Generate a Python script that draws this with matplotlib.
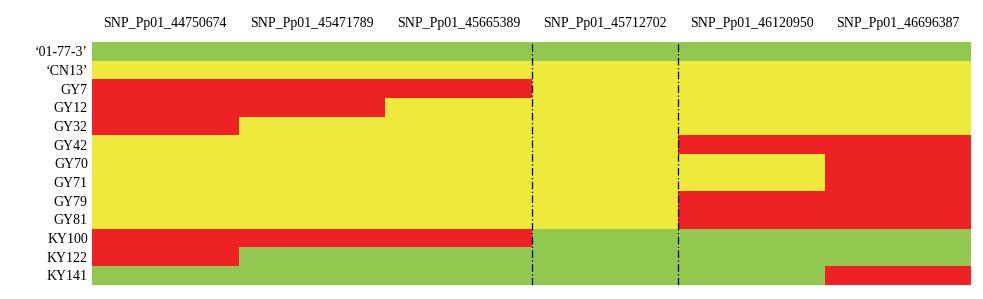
import matplotlib
matplotlib.use("Agg")
import matplotlib.pyplot as plt
import numpy as np
from matplotlib.colors import ListedColormap, BoundaryNorm

snps = ["SNP_Pp01_44750674", "SNP_Pp01_45471789", "SNP_Pp01_45665389",
        "SNP_Pp01_45712702", "SNP_Pp01_46120950", "SNP_Pp01_46696387"]
samples = ["\u201801-77-3\u2019", "\u2018CN13\u2019", "GY7", "GY12", "GY32", "GY42",
           "GY70", "GY71", "GY79", "GY81", "KY100", "KY122", "KY141"]
# 0 = green, 1 = yellow, 2 = red
genotypes = [
    [0, 0, 0, 0, 0, 0],
    [1, 1, 1, 1, 1, 1],
    [2, 2, 2, 1, 1, 1],
    [2, 2, 1, 1, 1, 1],
    [2, 1, 1, 1, 1, 1],
    [1, 1, 1, 1, 2, 2],
    [1, 1, 1, 1, 1, 2],
    [1, 1, 1, 1, 1, 2],
    [1, 1, 1, 1, 2, 2],
    [1, 1, 1, 1, 2, 2],
    [2, 2, 2, 0, 0, 0],
    [2, 0, 0, 0, 0, 0],
    [0, 0, 0, 0, 0, 2],
]
divider_cols = [3, 4]

plt.rcParams['font.family'] = ['Liberation Serif', 'DejaVu Serif']

fig = plt.figure(figsize=(9.83, 2.99), dpi=100)
ax = fig.add_axes([92/983, 1 - 284.5/299, (971.5-92)/983, (284.5-42)/299])

cmap = ListedColormap(["#92c850", "#eeea3b", "#ee2225"])
norm = BoundaryNorm([-0.5, 0.5, 1.5, 2.5], 3)
data = np.array(genotypes)
ax.pcolormesh(np.arange(len(snps) + 1), np.arange(len(samples) + 1), data,
              cmap=cmap, norm=norm, shading="flat", antialiased=False)
ax.set_xlim(0, len(snps))
ax.set_ylim(len(samples), 0)

for c in divider_cols:
    ax.axvline(c, color="black", linestyle=(0, (6, 2, 1, 2)), linewidth=0.9)

ax.set_xticks(np.arange(len(snps)) + 0.5)
ax.set_xticklabels(snps, fontsize=10)
ax.set_yticks(np.arange(len(samples)) + 0.5)
ax.set_yticklabels(samples, fontsize=10)
ax.xaxis.tick_top()
ax.tick_params(length=0, pad=3)
ax.tick_params(axis="x", pad=9)
for s in ax.spines.values():
    s.set_visible(False)

fig.savefig("out.png", dpi=100)
